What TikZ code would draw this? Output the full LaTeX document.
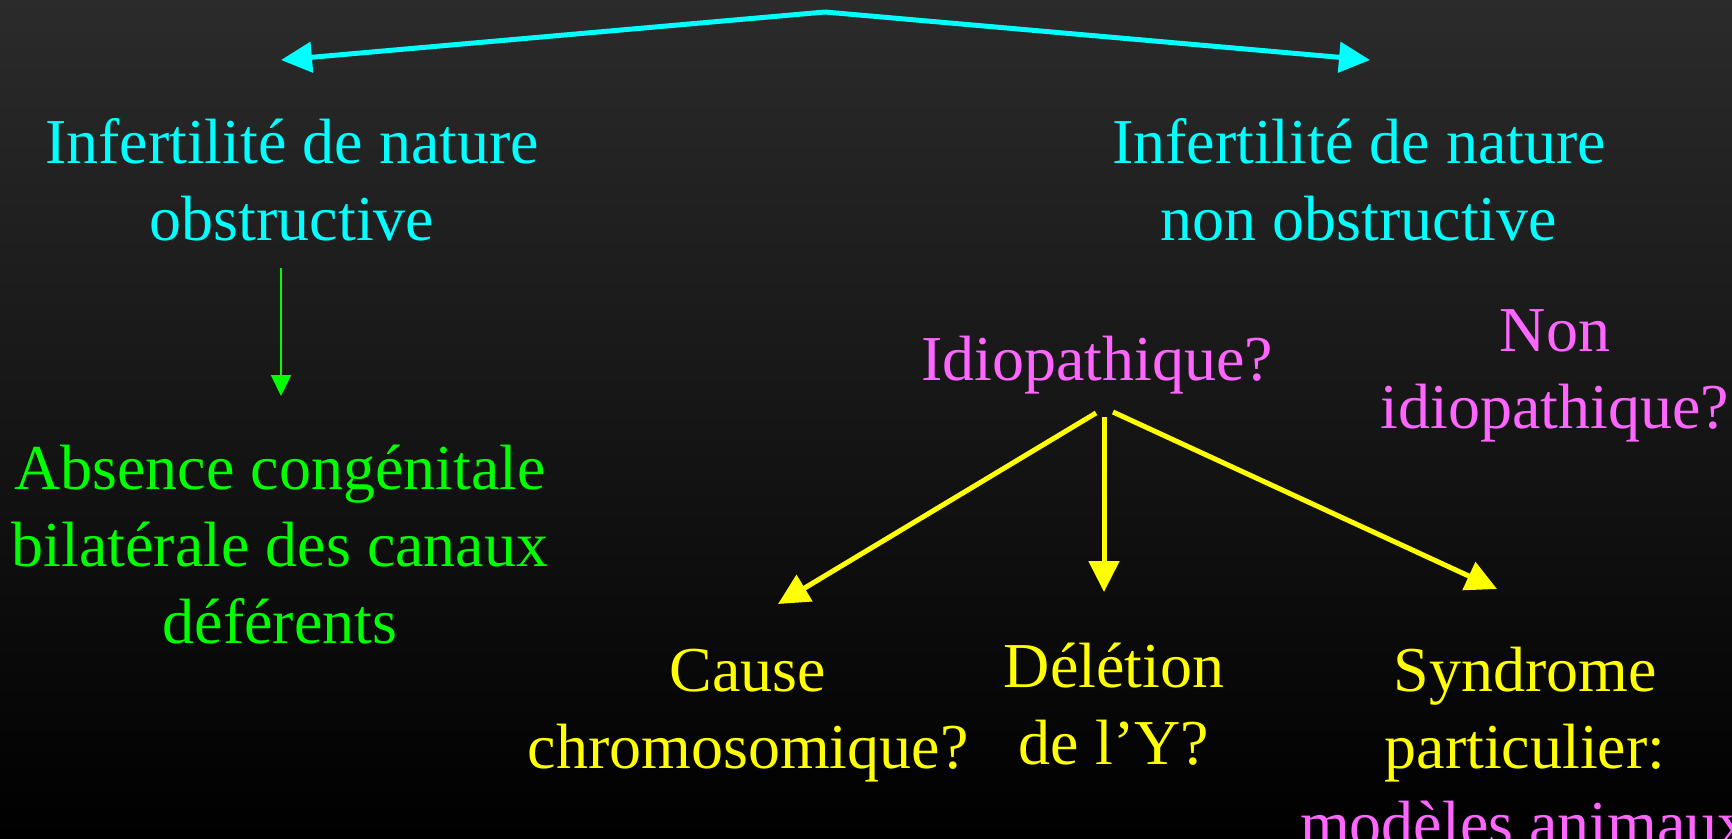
\documentclass[tikz,border=0pt]{standalone}
\usepackage{fontspec}
\setmainfont{Liberation Serif}
\usetikzlibrary{arrows.meta}

\definecolor{cyanT}{HTML}{00FFFF}
\definecolor{greenT}{HTML}{00FF00}
\definecolor{pinkT}{HTML}{FF66FF}
\definecolor{yellowT}{HTML}{FFFF00}
\definecolor{bgtop}{HTML}{2B2B2B}

\begin{document}
\begin{tikzpicture}[x=1pt,y=-1pt,
  % each label is placed by the baseline of its last line
  label/.style={inner sep=0pt, anchor=base, align=center,
    font={\fontsize{64}{77}\selectfont}},
  bigarrow/.style={line width=5pt, -{Triangle[length=31pt,width=30pt]}},
  thinarrow/.style={line width=2pt, -{Triangle[length=21pt,width=20pt]}}]

  % background
  \useasboundingbox (0,0) rectangle (1732,838);
  \shade[top color=bgtop, bottom color=black] (0,0) rectangle (1732,838);

  % texts
  \node[label, text=cyanT] (obs) at (292,240) {Infertilité de nature\\obstructive};
  \node[label, text=cyanT] (nonobs) at (1359,240) {Infertilité de nature\\non obstructive};
  \node[label, text=greenT] (cbavd) at (280,643) {Absence congénitale\\bilatérale des canaux\\déférents};
  \node[label, text=pinkT] (idio) at (1097,380) {Idiopathique?};
  \node[label, text=pinkT] (nonidio) at (1555,428) {Non\\idiopathique?};
  \node[label, text=yellowT] (cause) at (748,768) {Cause\\chromosomique?};
  \node[label, text=yellowT] (del) at (1114,764) {Délétion\\de l’Y?};
  \node[label, text=yellowT] (synd) at (1525,845) {Syndrome\\particulier:\\\textcolor{pinkT}{modèles animaux}};

  % branching arrows at the top
  \coordinate (apex) at (825,12);
  \coordinate (obsTip) at (281,60);
  \coordinate (nonobsTip) at (1370,60);
  \draw[cyanT, bigarrow] (apex) -- (obsTip);
  \draw[cyanT, bigarrow] (apex) -- (nonobsTip);

  % obstructive branch
  \coordinate (obsFrom) at (281,268);
  \coordinate (obsTo) at (281,396);
  \draw[greenT, thinarrow] (obsFrom) -- (obsTo);

  % idiopathic branches
  \coordinate (idL) at (1096,413);
  \coordinate (idM) at (1104,417);
  \coordinate (idR) at (1113,412);
  \coordinate (causeTip) at (778,604);
  \coordinate (delTip) at (1104,592);
  \coordinate (syndTip) at (1497,589);
  \draw[yellowT, bigarrow] (idL) -- (causeTip);
  \draw[yellowT, bigarrow] (idM) -- (delTip);
  \draw[yellowT, bigarrow] (idR) -- (syndTip);
\end{tikzpicture}
\end{document}
